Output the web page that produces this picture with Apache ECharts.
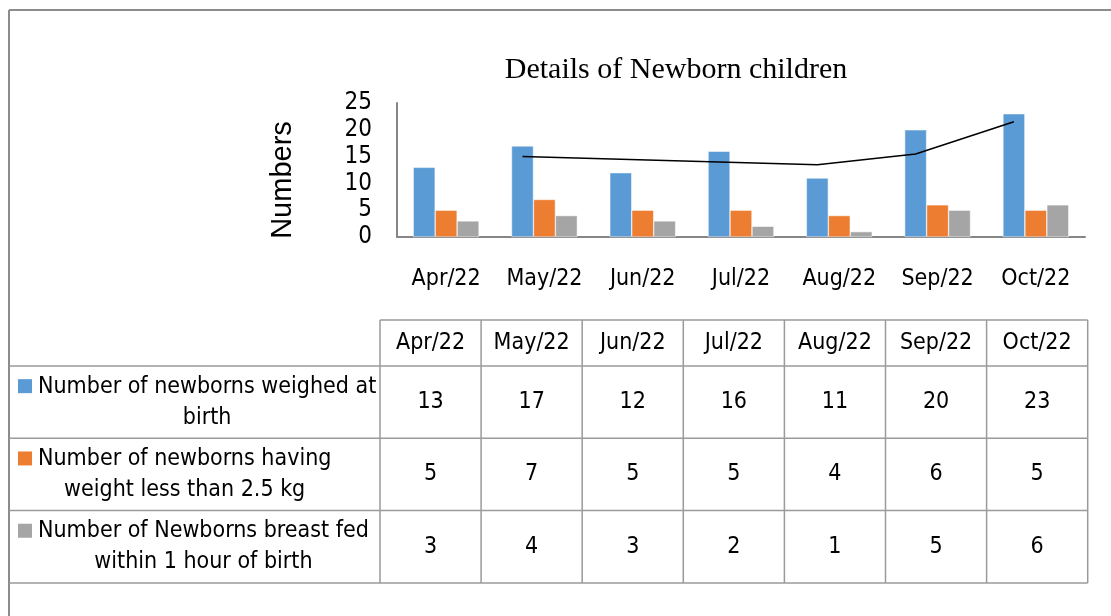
<!DOCTYPE html>
<html><head><meta charset="utf-8">
<script src="https://cdn.jsdelivr.net/npm/echarts@6/dist/echarts.min.js"></script>
<style>html,body{margin:0;padding:0;background:#fff}#c{width:1111px;height:616px}</style>
</head><body><div id="c"></div>
<script>
const categories = ['Apr/22','May/22','Jun/22','Jul/22','Aug/22','Sep/22','Oct/22'];
const weighed = [13,17,12,16,11,20,23];
const lowWeight = [5,7,5,5,4,6,5];
const breastFed = [3,4,3,2,1,5,6];
const trendValues = [null,15,14.5,14,13.5,15.5,21.5];
const seriesNames = ['Number of newborns weighed at\nbirth','Number of newborns having\nweight less than 2.5 kg','Number of Newborns breast fed\nwithin 1 hour of birth'];
const colors = ['#5B9BD5','#ED7D31','#A5A5A5'];
const yTicks = [0,5,10,15,20,25];

const NARROW = '"Liberation Sans Narrow","Arial Narrow","DejaVu Sans Condensed",sans-serif';
const chart = echarts.init(document.getElementById('c'));

const seriesData = [weighed, lowWeight, breastFed];
const barCatGap = 0.33;
const blueOffset = (1 - barCatGap) / 3; // blue bar centre offset, in band units

const mctx = document.createElement('canvas').getContext('2d');
function textW(s, size, fam){ mctx.font = size + 'px ' + fam; return mctx.measureText(s).width; }

const graphics = [];
const lineColor = '#9a9a9a';
graphics.push({type:'line', shape:{x1:9,y1:10,x2:1111,y2:10}, style:{stroke:'#8c8c8c',lineWidth:2}});
graphics.push({type:'line', shape:{x1:9,y1:10,x2:9,y2:616}, style:{stroke:'#8c8c8c',lineWidth:2}});
graphics.push({type:'text', x:283, y:180, rotation:Math.PI/2,
  style:{text:'Numbers', font:'29px "Liberation Sans",Arial,sans-serif', fill:'#000', textAlign:'center', textVerticalAlign:'middle'}});

const tLeft = 9, tColStart = 380, colW = 101.1, tRight = tColStart + colW*categories.length;
const hTop = 320, hBot = 366, rowH = 72.3;
const fontSize = 23;
graphics.push({type:'line', shape:{x1:tColStart,y1:hTop,x2:tRight,y2:hTop}, style:{stroke:lineColor,lineWidth:1.5}});
for (let r=0;r<=seriesData.length;r++){
  const y = hBot + r*rowH;
  graphics.push({type:'line', shape:{x1:tLeft,y1:y,x2:tRight,y2:y}, style:{stroke:lineColor,lineWidth:1.5}});
}
const tBot = hBot + rowH*seriesData.length;
for (let c=0;c<=categories.length;c++){
  const x = tColStart + c*colW;
  graphics.push({type:'line', shape:{x1:x,y1:hTop,x2:x,y2:tBot}, style:{stroke:lineColor,lineWidth:1.5}});
}
categories.forEach((cat,c)=>{
  graphics.push({type:'text', x:tColStart + (c+0.5)*colW, y:(hTop+hBot)/2,
    style:{text:cat, font:fontSize+'px '+NARROW, fill:'#000', textAlign:'center', textVerticalAlign:'middle'}});
});
seriesData.forEach((arr,r)=>{
  const cy = hBot + (r+0.5)*rowH;
  arr.forEach((v,c)=>{
    graphics.push({type:'text', x:tColStart + (c+0.5)*colW, y:cy,
      style:{text:String(v), font:fontSize+'px '+NARROW, fill:'#000', textAlign:'center', textVerticalAlign:'middle'}});
  });
  const lines = seriesNames[r].split('\n');
  const bw = Math.max(...lines.map(l=>textW(l,fontSize,NARROW)));
  const bx = 38 + bw/2;
  lines.forEach((l,i)=>{
    graphics.push({type:'text', x:bx, y:cy + (i-0.5)*31,
      style:{text:l, font:fontSize+'px '+NARROW, fill:'#000', textAlign:'center', textVerticalAlign:'middle'}});
  });
  graphics.push({type:'rect', shape:{x:18,y:cy-15.5-7.5,width:14,height:14}, style:{fill:colors[r]}});
});

const option = {
  animation:false,
  backgroundColor:'#fff',
  title:{text:'Details of Newborn children', left:671, top:50, textAlign:'center',
    textStyle:{fontFamily:'"Liberation Serif","Times New Roman",serif', fontSize:30, fontWeight:'normal', color:'#000'}},
  grid:{left:397, right:26, top:103, bottom:379, containLabel:false},
  xAxis:[
    {type:'category', data:categories, axisLine:{lineStyle:{color:'#868686',width:2}}, axisTick:{show:false},
     axisLabel:{interval:0, fontSize:23, fontFamily:NARROW, color:'#000', margin:31}},
    {type:'value', min:-0.5, max:categories.length-0.5, show:false}
  ],
  yAxis:{type:'value', min:0, max:25, interval:5, splitLine:{show:false},
    axisLine:{show:true, onZero:false, lineStyle:{color:'#868686',width:2}}, axisTick:{show:false},
    axisLabel:{fontSize:24, fontFamily:NARROW, color:'#000', margin:25}},
  series:[
    ...seriesData.map((d,i)=>({type:'bar', name:seriesNames[i], data:d, barGap:'0%', barCategoryGap:(barCatGap*100)+'%',
      itemStyle:{color:colors[i], borderColor:'#fff', borderWidth:0.5}})),
    {type:'line', xAxisIndex:1, data:trendValues.map((v,i)=> v==null?null:[i - blueOffset, v]).filter(p=>p),
      symbol:'none', lineStyle:{color:'#000', width:1.5}, z:5}
  ],
  graphic:graphics
};
chart.setOption(option);
</script></body></html>
